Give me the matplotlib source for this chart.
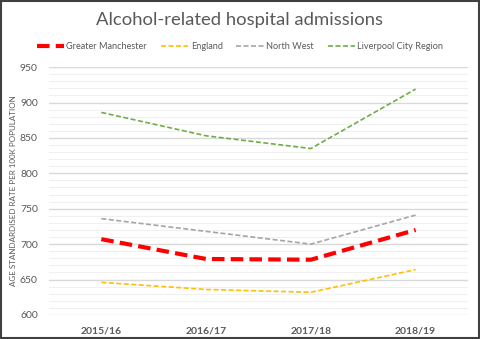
import numpy as np
import matplotlib.pyplot as plt
from matplotlib.patches import Rectangle

# Data
years = ["2015/16", "2016/17", "2017/18", "2018/19"]
greater_manchester = [707, 679, 678, 720]
england = [646, 636, 632, 664]
north_west = [736, 718, 700, 741]
liverpool = [886, 853, 835, 919]

plt.rcParams['font.family'] = ['Lato', 'DejaVu Sans']
txt = '#595959'

fig = plt.figure(figsize=(4.8, 3.39), dpi=100)
ax = fig.add_axes([0.102, 0.071, 0.873, 0.731])

x = np.arange(len(years))
ax.plot(x, greater_manchester, color='#ff0000', lw=3.0, ls=(0, (3, 1.5)), label='Greater Manchester', zorder=5)
ax.plot(x, england, color='#ffc000', lw=1.2, ls=(0, (3, 1.5)), label='England', zorder=4)
ax.plot(x, north_west, color='#a5a5a5', lw=1.2, ls=(0, (3, 1.5)), label='North West', zorder=4)
ax.plot(x, liverpool, color='#70ad47', lw=1.2, ls=(0, (3, 1.5)), label='Liverpool City Region', zorder=4)

ax.set_xlim(-0.5, 3.5)
ax.set_ylim(600, 950)
ax.set_yticks(np.arange(600, 951, 50))
ax.set_yticks(np.arange(600, 951, 10), minor=True)
ax.set_xticks(x)
ax.set_xticklabels(years, fontweight='bold')
ax.grid(axis='y', which='major', color='#d9d9d9', lw=1.0)
ax.grid(axis='y', which='minor', color='#f0f0f0', lw=0.8)
ax.set_axisbelow(True)
for s in ax.spines.values():
    s.set_visible(False)
ax.tick_params(axis='both', which='both', length=0, labelsize=7.5, colors=txt)
ax.tick_params(axis='x', pad=8)
ax.tick_params(axis='y', pad=8)
ax.set_ylabel('AGE STANDARDISED RATE PER 100K POPULATION', fontsize=5.8, color=txt, labelpad=2)

fig.text(0.5, 0.94, 'Alcohol-related hospital admissions', ha='center', va='center',
         fontsize=13.3, color=txt)
fig.legend(loc='center', bbox_to_anchor=(0.5, 0.862), ncol=4, frameon=False,
           fontsize=6.6, labelcolor=txt, handlelength=3.0, handletextpad=0.25, columnspacing=1.5)

fig.add_artist(Rectangle((0.002, 0.003), 0.996, 0.994, transform=fig.transFigure,
                         fill=False, edgecolor='#404040', lw=1.5))

fig.savefig('out.png', dpi=100)
